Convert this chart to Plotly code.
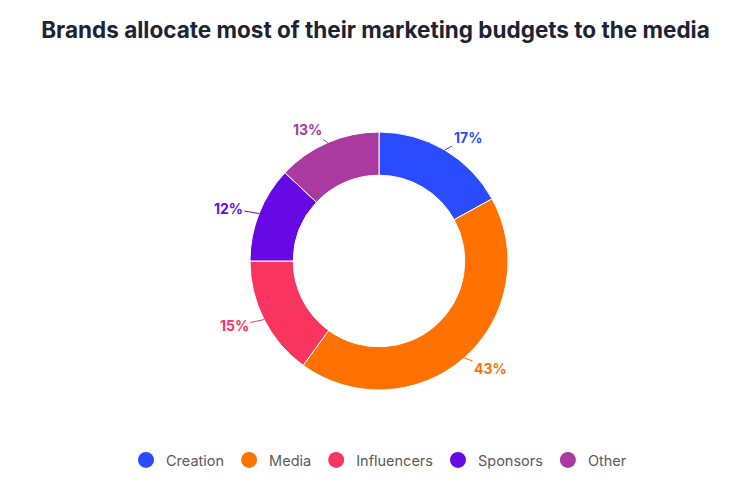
import math
import plotly.graph_objects as go

categories = ["Creation", "Media", "Influencers", "Sponsors", "Other"]
shares = [17, 43, 15, 12, 13]
colors = ["#2B4BFF", "#FF7100", "#F9345F", "#6709E5", "#AA3A9F"]

W, H = 751, 494
ML, MR, MT, MB = 7, 0, 132, 104
PW, PH = W - ML - MR, H - MT - MB
R = min(PW, PH) / 2
CX, CY = ML + PW / 2, MT + PH / 2

fig = go.Figure()
fig.add_trace(go.Pie(
    labels=categories, values=shares, hole=0.665, sort=False,
    direction="clockwise", rotation=0, textinfo="none",
    marker=dict(colors=colors, line=dict(color="white", width=1)),
    showlegend=False, hoverinfo="label+percent",
    domain=dict(x=[0, 1], y=[0, 1]),
))

# legend entries with circle markers
for c, col in zip(categories, colors):
    fig.add_trace(go.Scatter(x=[None], y=[None], mode="markers", name=c,
                             marker=dict(color=col, size=16, symbol="circle")))

# outside labels with leader lines, positioned from the data
total = sum(shares)
cum = 0
annotations = []
for v, col in zip(shares, colors):
    mid = (cum + v / 2) / total * 2 * math.pi
    cum += v
    s, c = math.sin(mid), math.cos(mid)
    px, py = CX + R * s, CY - R * c
    ax = 20 * s + (13 if s > 0 else -12)
    ay = -14 * c
    annotations.append(dict(
        x=(px - ML) / PW, y=1 - (py - MT) / PH, xref="paper", yref="paper",
        text=f"<b>{round(v / total * 100)}%</b>", showarrow=True, arrowhead=0,
        arrowwidth=1, arrowcolor=col, ax=ax, ay=ay, standoff=0,
        font=dict(color=col, size=14, family="Inter, Lato, sans-serif"),
    ))

fig.update_layout(
    width=W, height=H,
    margin=dict(l=ML, r=MR, t=MT, b=MB),
    paper_bgcolor="white", plot_bgcolor="white",
    title=dict(text="<b>Brands allocate most of their marketing budgets to the media</b>",
               x=0.5, xanchor="center", y=1 - 30 / H, yanchor="middle", yref="container",
               font=dict(size=22.5, color="#1B2334", family="Inter, Lato, sans-serif")),
    xaxis=dict(visible=False), yaxis=dict(visible=False),
    legend=dict(orientation="h", x=0.5, xanchor="center", y=-(460 - (MT + PH)) / PH,
                yanchor="middle", font=dict(size=14.5, color="#5a5a5a", family="Inter, Lato, sans-serif"),
                itemclick=False),
    annotations=annotations,
)

fig.write_html("out.html")
